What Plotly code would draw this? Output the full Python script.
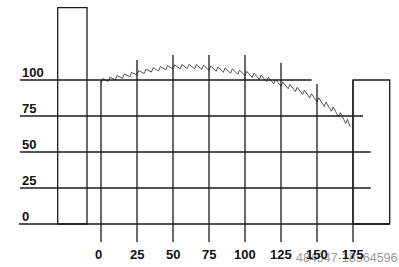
import plotly.graph_objects as go

# ---- data ----
x_ticks = [0, 25, 50, 75, 100, 125, 150, 175]
y_ticks = [0, 25, 50, 75, 100]
x_tick_labels = ["0", "25", "50", "75", "100", "125", "150", "175"]
y_tick_labels = ["0", "25", "50", "75", "100"]

valley_x = [0, 5, 10, 15, 20, 25, 30, 35, 40, 45, 50, 55, 60, 65, 70, 75, 80, 85, 90,
            95, 100, 105, 110, 115, 120, 125, 130, 135, 140, 145, 150, 155, 160, 165, 170]
valley_y = [98.0, 99.0, 100.1, 101.2, 102.3, 103.5, 104.5, 105.5, 106.3, 107.0, 107.5,
            107.8, 107.9, 107.7, 107.3, 106.7, 106.1, 105.4, 104.7, 103.9, 103.0, 101.8,
            100.4, 98.9, 97.3, 95.7, 93.9, 92.0, 90.0, 87.5, 84.7, 81.7, 78.3, 74.3, 69.8]
peak_x = [1.2, 6.2, 11.2, 16.2, 21.2, 26.2, 31.2, 36.2, 41.2, 46.2, 51.2, 56.2, 61.2,
          66.2, 71.2, 76.2, 81.2, 86.2, 91.2, 96.2, 101.2, 106.2, 111.2, 116.2, 121.2,
          126.2, 131.2, 136.2, 141.2, 146.2, 151.2, 156.2, 161.2, 166.2, 171.2]
peak_y = [101.0, 102.0, 103.1, 104.2, 105.3, 106.5, 107.5, 108.5, 109.3, 110.0, 110.5,
          110.8, 110.9, 110.7, 110.3, 109.7, 109.1, 108.4, 107.7, 106.9, 106.0, 104.8,
          103.4, 101.9, 100.3, 98.7, 96.9, 95.0, 93.0, 90.5, 87.7, 84.7, 81.3, 77.3, 72.8]
end_x = 173
end_y = 67.5

left_bar_top = 150.2
right_bar_top = 100

watermark = "484547-18364596"

# ---- build ----
saw_x, saw_y = [], []
for vx, vy, px, py in zip(valley_x, valley_y, peak_x, peak_y):
    saw_x += [vx, px]
    saw_y += [vy, py]
saw_x.append(end_x)
saw_y.append(end_y)

LINE = dict(color="#1a1a1a", width=1.3)
fig = go.Figure()

fig.add_trace(go.Scatter(x=saw_x, y=saw_y, mode="lines",
                         line=dict(color="#555555", width=1), hoverinfo="skip"))

shapes = []
# horizontal grid lines (start, end)
h_start = {0: -56.9, 25: -56.25, 50: -56.25, 75: -56.25, 100: -56.25}
h_end = {0: 200.5, 25: 187.3, 50: 187.3, 75: 181.9, 100: 146.3}
for v in y_ticks:
    shapes.append(dict(type="line", x0=h_start[v], x1=h_end[v], y0=v, y1=v, line=LINE))
# vertical grid lines
v_top = {0: 100, 25: 113.9, 50: 117.4, 75: 117.4, 100: 117.4, 125: 112, 150: 97.2, 175: 100}
for xv in x_ticks:
    shapes.append(dict(type="line", x0=xv, x1=xv, y0=-12.5, y1=v_top[xv], line=LINE))
# left tall bar
shapes.append(dict(type="rect", x0=-30.07, x1=-9.72, y0=0, y1=left_bar_top, line=LINE))
# right bar
shapes.append(dict(type="rect", x0=175, x1=200.5, y0=0, y1=right_bar_top, line=LINE))

annotations = []
annotations.append(dict(x=346.5, y=258, xref="paper", yref="paper", text=watermark,
                        showarrow=False, font=dict(family="Liberation Sans", size=12.5,
                                                   color="#9a9a9a"),
                        xanchor="center", yanchor="middle"))
for v, t in zip(y_ticks, y_tick_labels):
    annotations.append(dict(x=-56.4, y=v + 5.2, text="<b>%s</b>" % t, showarrow=False,
                            xanchor="left", yanchor="middle",
                            font=dict(family="Liberation Sans", size=13, color="#111111")))
for xv, t in zip(x_ticks, x_tick_labels):
    annotations.append(dict(x=xv - (1.4 if xv == 0 else 0), y=-21.5, text="<b>%s</b>" % t,
                            showarrow=False, xanchor="center", yanchor="middle",
                            font=dict(family="Liberation Sans", size=13, color="#111111")))

# watermark positioned in pixels -> convert to paper
W, H = 399, 267
annotations[0]["x"] = 346.5 / W
annotations[0]["y"] = 1 - 258 / H

fig.update_layout(
    width=W, height=H, autosize=False,
    margin=dict(l=0, r=0, t=0, b=0),
    paper_bgcolor="white", plot_bgcolor="white",
    showlegend=False,
    xaxis=dict(range=[-70.14, 206.94], visible=False, fixedrange=True),
    yaxis=dict(range=[-29.86, 155.56], visible=False, fixedrange=True),
    shapes=shapes, annotations=annotations,
)

fig.write_html("out.html", config={"displayModeBar": False})
